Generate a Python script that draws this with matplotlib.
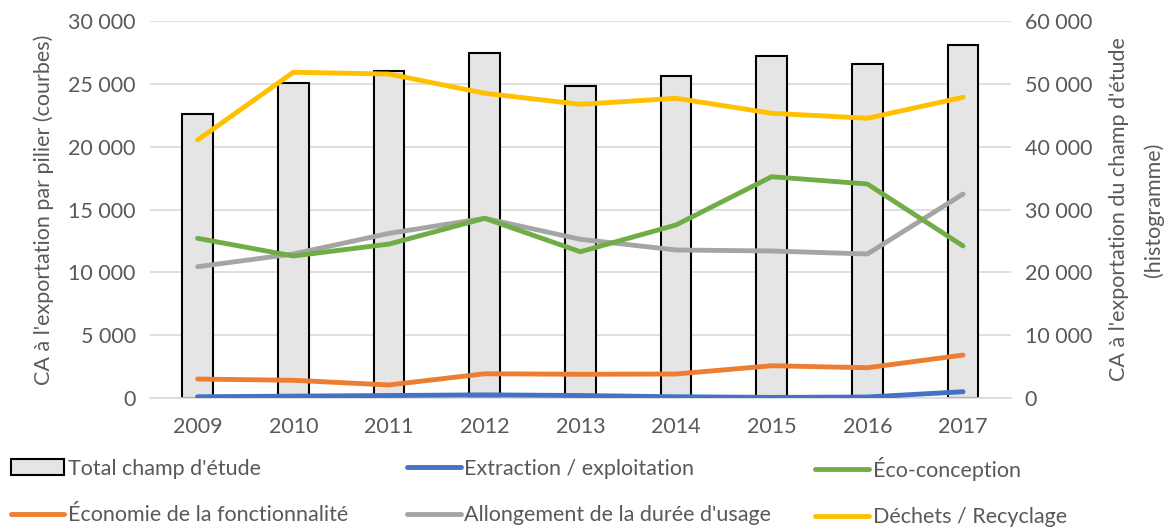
import matplotlib.pyplot as plt
from matplotlib.ticker import FuncFormatter
from matplotlib.lines import Line2D
from matplotlib.patches import Patch

plt.rcParams['font.family'] = ['Lato', 'DejaVu Sans']

# Données
annees = ['2009', '2010', '2011', '2012', '2013', '2014', '2015', '2016', '2017']
total_champ = [45200, 50100, 52000, 54850, 49700, 51250, 54430, 53150, 56230]
extraction = [100, 150, 200, 250, 200, 100, 50, 80, 500]
eco_conception = [12710, 11300, 12250, 14300, 11640, 13770, 17610, 17030, 12100]
economie_fonct = [1510, 1410, 1040, 1930, 1890, 1910, 2570, 2410, 3420]
allongement = [10450, 11460, 13100, 14300, 12630, 11780, 11700, 11460, 16230]
dechets = [20530, 25920, 25780, 24250, 23370, 23850, 22660, 22260, 23930]

gris_txt = '#595959'
couleurs = {
    'extraction': '#4472C4',
    'eco': '#70AD47',
    'economie': '#ED7D31',
    'allongement': '#A5A5A5',
    'dechets': '#FFC000',
}
fs = 15.5


def fmt_milliers(v, pos):
    return f"{int(v):,}".replace(',', ' ')


fig = plt.figure(figsize=(11.7, 5.29), dpi=100)
ax = fig.add_axes([0.128, 0.2476, 0.736, 0.7127])
axr = ax.twinx()
ax.set_zorder(axr.get_zorder() + 1)
ax.patch.set_visible(False)

x = list(range(len(annees)))

# Histogramme (axe de droite)
axr.bar(x, total_champ, width=0.32, color='#E5E5E5', edgecolor='black',
        linewidth=1.5, zorder=2)
axr.set_ylim(0, 60000)
axr.set_yticks(range(0, 60001, 10000))
axr.yaxis.set_major_formatter(FuncFormatter(fmt_milliers))
axr.grid(axis='y', color='#D9D9D9', linewidth=1.2, zorder=0)
axr.set_axisbelow(True)

# Courbes (axe de gauche)
lw = 3.5
ax.plot(x, dechets, color=couleurs['dechets'], lw=lw, solid_capstyle='round')
ax.plot(x, allongement, color=couleurs['allongement'], lw=lw, solid_capstyle='round')
ax.plot(x, eco_conception, color=couleurs['eco'], lw=lw, solid_capstyle='round')
ax.plot(x, economie_fonct, color=couleurs['economie'], lw=lw, solid_capstyle='round')
ax.plot(x, extraction, color=couleurs['extraction'], lw=lw, solid_capstyle='round')
ax.set_ylim(0, 30000)
ax.set_yticks(range(0, 30001, 5000))
ax.yaxis.set_major_formatter(FuncFormatter(fmt_milliers))
ax.set_xlim(-0.5, len(annees) - 0.5)
ax.set_xticks(x)
ax.set_xticklabels(annees)

for a in (ax, axr):
    for s in a.spines.values():
        s.set_visible(False)
    a.tick_params(length=0, labelsize=fs, labelcolor=gris_txt)
ax.tick_params(axis='x', pad=14)
ax.tick_params(axis='y', pad=10)
axr.tick_params(axis='y', pad=10)
axr.spines['bottom'].set_visible(True)
axr.spines['bottom'].set_color('#D9D9D9')
axr.spines['bottom'].set_linewidth(1.2)

ax.set_ylabel("CA à l'exportation par pilier (courbes)", fontsize=fs,
              color=gris_txt, labelpad=10)
axr.set_ylabel("CA à l'exportation du champ d'étude\n(histogramme)",
               fontsize=fs, color=gris_txt, labelpad=12, linespacing=1.9)

# Légende : trois colonnes placées séparément
def ligne(c):
    return Line2D([], [], color=c, lw=lw, solid_capstyle='round')


colonnes = [
    (0.009, [Patch(facecolor='#E5E5E5', edgecolor='black', linewidth=1.5),
             ligne(couleurs['economie'])],
     ["Total champ d'étude", "Économie de la fonctionnalité"]),
    (0.348, [ligne(couleurs['extraction']), ligne(couleurs['allongement'])],
     ["Extraction / exploitation", "Allongement de la durée d'usage"]),
    (0.697, [ligne(couleurs['eco']), ligne(couleurs['dechets'])],
     ["Éco-conception", "Déchets / Recyclage"]),
]
for xpos, hs, labs in colonnes:
    leg = fig.legend(hs, labs, loc='center left',
                     bbox_to_anchor=(xpos, 0.070), frameon=False,
                     fontsize=fs, handlelength=2.5, handletextpad=0.15,
                     labelspacing=1.25, borderaxespad=0, borderpad=0)
    for t in leg.get_texts():
        t.set_color(gris_txt)

fig.savefig('out.png', dpi=100)
